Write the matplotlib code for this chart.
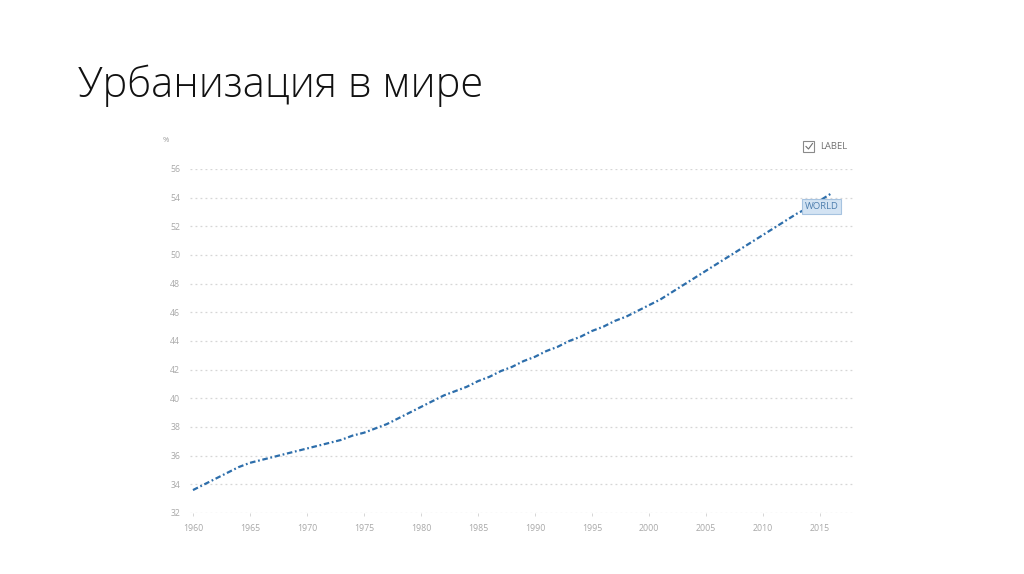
import matplotlib
matplotlib.use("Agg")
import matplotlib.pyplot as plt
import matplotlib.patches as mpatches

# =================================================================
# DATOS: poblacion urbana, % del total (WORLD)
# =================================================================
years = list(range(1960, 2017))
urban_pct = [33.6, 34.0, 34.4, 34.8, 35.2, 35.5, 35.7, 35.9, 36.1, 36.3,
             36.5, 36.7, 36.9, 37.1, 37.4, 37.6, 37.9, 38.2, 38.6, 39.0,
             39.4, 39.8, 40.2, 40.5, 40.8, 41.2, 41.5, 41.9, 42.2, 42.6,
             42.9, 43.3, 43.6, 44.0, 44.3, 44.7, 45.0, 45.4, 45.7, 46.1,
             46.5, 46.9, 47.4, 47.9, 48.4, 48.9, 49.4, 49.9, 50.4, 50.9,
             51.4, 51.9, 52.4, 52.9, 53.3, 53.8, 54.3]
y_ticks = list(range(32, 57, 2))
x_ticks = list(range(1960, 2016, 5))
series_name = "WORLD"
title = "Урбанизация в мире"

W, H = 1024, 574
fig = plt.figure(figsize=(W / 100, H / 100), dpi=100)
fig.patch.set_facecolor("white")

# posicion del area de trazado (pixeles medidos de la imagen)
left, right, top, bottom = 190, 855, 169, 513
ax = fig.add_axes([left / W, 1 - bottom / H, (right - left) / W, (bottom - top) / H])

ax.plot(years, urban_pct, color="#2d6eab", lw=1.6,
        dashes=(2.5, 1.2, 0.8, 1.2), clip_on=False)

ax.set_xlim(1959.74, 2018.07)
ax.set_ylim(32, 56)
ax.set_yticks(y_ticks)
ax.set_xticks(x_ticks)
ax.grid(True, axis="y", linestyle=(0, (1.5, 2.5)), color="#d6d6d6", lw=0.9)
for s in ax.spines.values():
    s.set_visible(False)
ax.tick_params(axis="y", length=0, pad=7, labelsize=6.3, labelcolor="#a8a8a8")
ax.tick_params(axis="x", length=2, width=0.6, color="#d0d0d0", pad=6,
               labelsize=6.3, labelcolor="#a8a8a8")
for lbl in ax.get_xticklabels() + ax.get_yticklabels():
    lbl.set_family("Open Sans")

# unidad
fig.text(163 / W, 1 - 141 / H, "%", fontsize=5.5, color="#999999",
         family="Open Sans", va="center")

# casilla LABEL
fig.patches.append(mpatches.Rectangle((803 / W, 1 - 152 / H), 11 / W, 11 / H,
                                      transform=fig.transFigure, fill=False,
                                      ec="#8a8a8a", lw=0.8))
fig.lines.append(plt.Line2D([806 / W, 808.5 / W, 812.5 / W],
                            [1 - 146.5 / H, 1 - 149 / H, 1 - 143.5 / H],
                            transform=fig.transFigure, color="#707070", lw=0.8))
fig.text(820 / W, 1 - 146.5 / H, "LABEL", fontsize=6.8, color="#707070",
         family="Open Sans", va="center")

# etiqueta de la serie
ax.annotate(series_name, xy=(years[-1], urban_pct[-1]),
            xytext=(821.5 / W, 1 - 206.5 / H), textcoords="figure fraction",
            ha="center", va="center", fontsize=6.8, color="#4f7fae",
            family="Open Sans",
            bbox=dict(boxstyle="square,pad=0.3", fc="#d3e3f3", ec="#a6c3e0", lw=0.8))

fig.text(78 / W, 1 - 86 / H, title, fontsize=30, color="#111111",
         family=["Open Sans", "DejaVu Sans"], fontweight="light",
         va="center", ha="left")

fig.savefig("out.png", dpi=100)
